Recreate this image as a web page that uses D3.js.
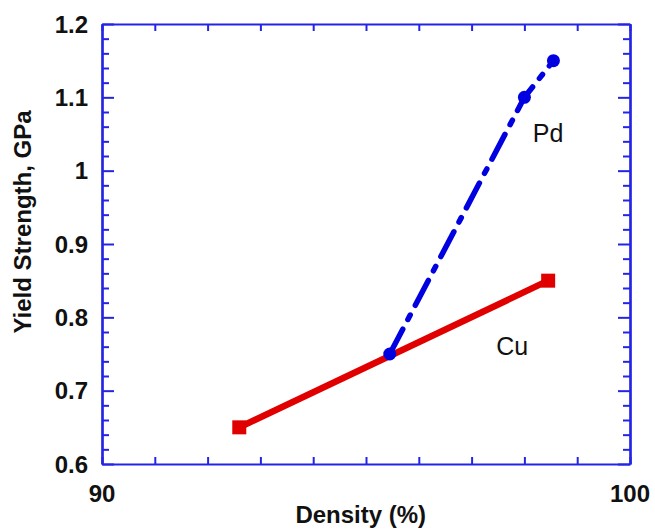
<!DOCTYPE html>
<meta charset="utf-8">
<script src="https://d3js.org/d3.v7.min.js"></script>
<style>
  body { margin: 0; background: #fff; }
  text { font-family: "Liberation Sans", Arial, sans-serif; }
</style>
<div id="chart"></div>
<script>

// data
var cuDensity = [92.6, 98.45];
var cuYield = [0.65, 0.85];
var pdDensity = [95.45, 98.0, 98.55];
var pdYield = [0.75, 1.10, 1.15];

var xLabels = [90, 100];
var yLabels = [0.6, 0.7, 0.8, 0.9, 1, 1.1, 1.2];

var margin = {top: 24, right: 25, bottom: 67, left: 102},
  width = 655 - margin.left - margin.right,
  height = 531 - margin.top - margin.bottom;

var axisColor = "#2424e4";

var svg = d3.select("#chart")
  .append("svg")
    .attr("width", 655)
    .attr("height", 531)
  .append("g")
    .attr("transform", "translate(" + margin.left + "," + margin.top + ")");

var x = d3.scaleLinear().domain([90, 100]).range([0, width]);
var y = d3.scaleLinear().domain([0.6, 1.2]).range([height, 0]);

var xTicks = d3.range(90, 100.01, 1);
var yMinor = d3.range(0.6, 1.2001, 0.02).filter(function(v) {
  return Math.abs(Math.round(v * 10) - v * 10) > 0.01;
});
var yMajor = yLabels;

function styleAxis(g) {
  g.selectAll("path, line")
    .attr("stroke", axisColor)
    .attr("stroke-width", 2);
  g.select(".domain").attr("stroke-width", 2.2);
}

// bottom and top x axes (ticks only)
svg.append("g")
  .attr("transform", "translate(0," + height + ")")
  .call(d3.axisBottom(x).tickValues(xTicks).tickSize(-7).tickSizeOuter(0).tickFormat(""))
  .call(styleAxis);
svg.append("g")
  .call(d3.axisTop(x).tickValues(xTicks).tickSize(-7).tickSizeOuter(0).tickFormat(""))
  .call(styleAxis);

// left and right y axes, minor and major ticks
svg.append("g")
  .call(d3.axisLeft(y).tickValues(yMinor).tickSize(-7).tickSizeOuter(0).tickFormat(""))
  .call(styleAxis);
svg.append("g")
  .call(d3.axisLeft(y).tickValues(yMajor).tickSize(-12).tickSizeOuter(0).tickFormat(""))
  .call(styleAxis);
svg.append("g")
  .attr("transform", "translate(" + width + ",0)")
  .call(d3.axisRight(y).tickValues(yMinor).tickSize(-7).tickSizeOuter(0).tickFormat(""))
  .call(styleAxis);
svg.append("g")
  .attr("transform", "translate(" + width + ",0)")
  .call(d3.axisRight(y).tickValues(yMajor).tickSize(-12).tickSizeOuter(0).tickFormat(""))
  .call(styleAxis);

// tick labels
svg.selectAll(".ylab")
  .data(yLabels)
  .enter()
  .append("text")
    .attr("x", -14)
    .attr("y", function(d) { return y(d); })
    .attr("dy", "0.36em")
    .attr("text-anchor", "end")
    .style("font-size", "24px")
    .style("font-weight", "bold")
    .style("fill", "#111")
    .text(function(d) { return d; });

svg.selectAll(".xlab")
  .data(xLabels)
  .enter()
  .append("text")
    .attr("x", function(d) { return x(d); })
    .attr("y", height + 38)
    .attr("text-anchor", "middle")
    .style("font-size", "24px")
    .style("font-weight", "bold")
    .style("fill", "#111")
    .text(function(d) { return d; });

// axis titles
svg.append("text")
  .attr("x", x(94.9))
  .attr("y", height + 59)
  .attr("text-anchor", "middle")
  .style("font-size", "24px")
  .style("font-weight", "bold")
  .style("fill", "#111")
  .text("Density (%)");

svg.append("text")
  .attr("transform", "translate(" + (-71) + "," + y(0.93) + ") rotate(-90)")
  .attr("text-anchor", "middle")
  .style("font-size", "24px")
  .style("font-weight", "bold")
  .style("fill", "#111")
  .text("Yield Strength, GPa");

// Cu series
var cu = cuDensity.map(function(d, i) { return [d, cuYield[i]]; });
var pd = pdDensity.map(function(d, i) { return [d, pdYield[i]]; });

var line = d3.line()
  .x(function(d) { return x(d[0]); })
  .y(function(d) { return y(d[1]); });

svg.append("path")
  .datum(cu)
  .attr("d", line)
  .style("fill", "none")
  .style("stroke", "#e00000")
  .style("stroke-width", 6.5);

svg.selectAll(".cuPt")
  .data(cu)
  .enter()
  .append("rect")
    .attr("x", function(d) { return x(d[0]) - 7; })
    .attr("y", function(d) { return y(d[1]) - 7; })
    .attr("width", 14)
    .attr("height", 14)
    .style("fill", "#e00000");

// Pd series
svg.append("path")
  .datum(pd)
  .attr("d", line)
  .style("fill", "none")
  .style("stroke", "#0000e0")
  .style("stroke-width", 5.5)
  .style("stroke-linecap", "round")
  .style("stroke-dasharray", "28,11,5,11");

svg.selectAll(".pdPt")
  .data(pd)
  .enter()
  .append("circle")
    .attr("cx", function(d) { return x(d[0]); })
    .attr("cy", function(d) { return y(d[1]); })
    .attr("r", 6.5)
    .style("fill", "#0000e0");

// series labels
svg.append("text")
  .attr("x", x(98.45))
  .attr("y", y(1.039))
  .attr("text-anchor", "middle")
  .style("font-size", "25px")
  .style("fill", "#111")
  .text("Pd");

svg.append("text")
  .attr("x", x(97.77))
  .attr("y", y(0.749))
  .attr("text-anchor", "middle")
  .style("font-size", "25px")
  .style("fill", "#111")
  .text("Cu");

</script>
